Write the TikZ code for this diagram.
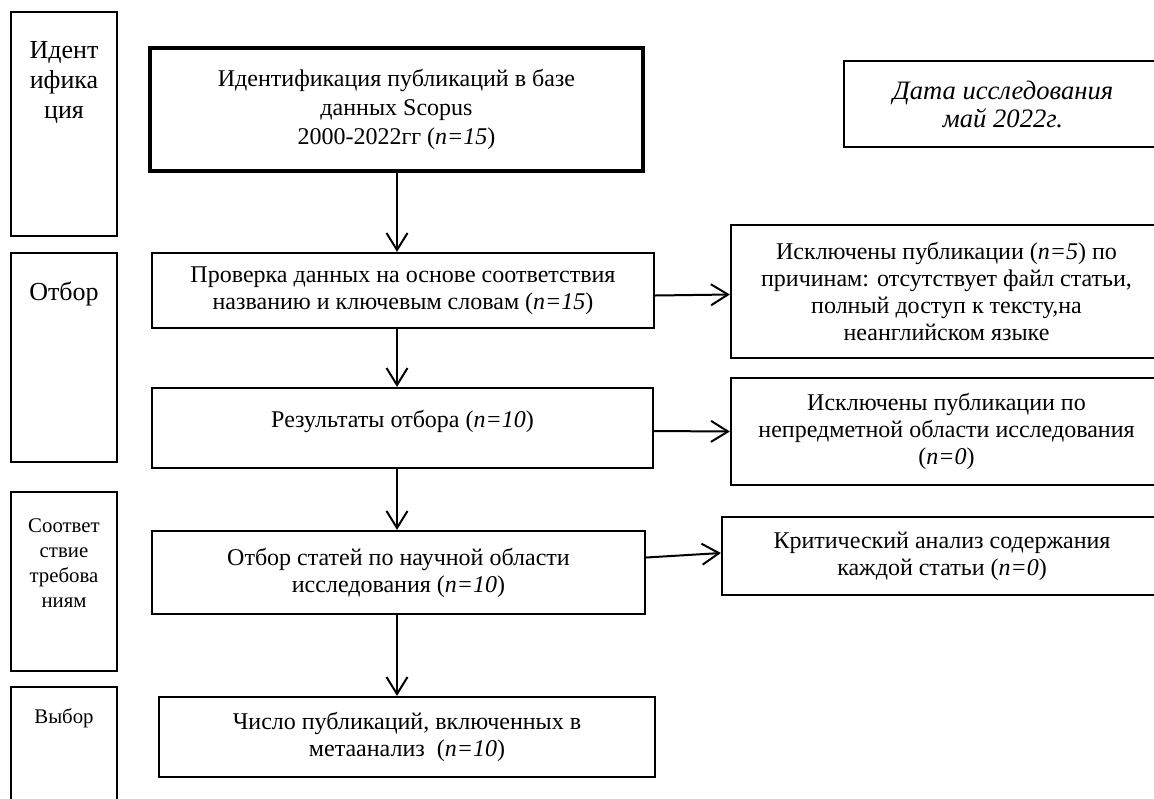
\documentclass[tikz,border=0pt]{standalone}
\usepackage{fontspec}
\setmainfont{Liberation Serif}
\usetikzlibrary{positioning,arrows.meta}

\begin{document}
\begin{tikzpicture}[x=0.5pt,y=-0.5pt,
    box/.style={shape=rectangle,draw=black,line width=1.1pt,inner sep=0pt,align=center,font=\fontsize{12}{13.5}\selectfont},
    stage/.style={shape=rectangle,draw=black,line width=1.1pt,inner sep=0pt,minimum width=53pt},
    stagetext/.style={inner sep=0pt,align=center,font=\fontsize{13}{15}\selectfont},
    stagesmall/.style={inner sep=0pt,align=center,font=\fontsize{10.4}{12.5}\selectfont},
    flow/.style={-{Straight Barb[length=8.5pt,width=10.5pt]},line width=1pt}]
    \useasboundingbox (0,0) rectangle (1154,798);
    \clip (0,0) rectangle (1154,798);

    % stages on the left
    \node[stage,minimum height=112pt] (Ident) at (64,124) {};
    \node[stage,minimum height=104.5pt] (Select) at (64,357.5) {};
    \node[stage,minimum height=89.5pt] (Match) at (64,581.5) {};
    \node[stage,minimum height=71.5pt] (Choice) at (64,758.5) {};
    \node[stagetext,below=15pt of Ident.north] (IdentLbl) {Идент\\ифика\\ция};
    \node[stagetext,below=15pt of Select.north] (SelectLbl) {Отбор};
    \node[stagesmall,below=13.5pt of Match.north] (MatchLbl) {Соответ\\ствие\\требова\\ниям};
    \node[stagesmall,below=11pt of Choice.north] (ChoiceLbl) {Выбор};

    % main flow
    \node[box,line width=2.3pt,font=\fontsize{12}{14.5}\selectfont,minimum width=246.5pt,minimum height=61.5pt] (Search) at (396.5,109.5)
        {Идентификация публикаций в базе\\данных Scopus\\2000-2022гг (\textit{n=15})};
    \node[box,minimum width=251pt,minimum height=37.5pt] (Screen) at (403,290.5)
        {Проверка данных на основе соответствия\\названию и ключевым словам (\textit{n=15})};
    \node[box,minimum width=250.5pt,minimum height=40pt] (Results) at (402.5,428) {};
    \node[box,inner sep=0pt,draw=none,below=11pt of Results.north] (ResultsLbl)
        {Результаты отбора (\textit{n=10})};
    \node[box,minimum width=246.5pt,minimum height=41.5pt] (Field) at (398.5,572.5)
        {Отбор статей по научной области\\исследования (\textit{n=10})};
    \node[box,minimum width=248pt,minimum height=40pt] (Included) at (407,737)
        {Число публикаций, включенных в\\метаанализ~ (\textit{n=10})};

    % right column
    \node[box,line width=1.3pt,font=\fontsize{13.3}{14}\selectfont\itshape,minimum width=159pt,minimum height=43pt] (Date) at (1003,104)
        {Дата исследования\\май 2022г.};
    \node[box,minimum width=215.5pt,minimum height=66.5pt] (ExclA) at (946.5,291.5)
        {Исключены публикации (\textit{n=5}) по\\причинам: отсутствует файл статьи,\\полный доступ к тексту,на\\неанглийском языке};
    \node[box,minimum width=215.5pt,minimum height=53.5pt] (ExclB) at (946.5,431.5)
        {Исключены публикации по\\непредметной области исследования\\(\textit{n=0})};
    \node[box,minimum width=220pt,minimum height=39pt] (Critical) at (942,556)
        {Критический анализ содержания\\каждой статьи (\textit{n=0})};

    \coordinate (Axis) at (397,0);
    \draw[flow] (Search.south -| Axis) -- (Screen.north -| Axis);
    \draw[flow] (Screen.south -| Axis) -- (Results.north -| Axis);
    \draw[flow] (Results.south -| Axis) -- (Field.north -| Axis);
    \draw[flow] (Field.south -| Axis) -- (Included.north -| Axis);

    \draw[flow] ([yshift=-2.5pt]Screen.east) -- ([yshift=-1.5pt]ExclA.west);
    \draw[flow] ([yshift=-1.5pt]Results.east) -- ([yshift=0pt]ExclB.west);
    \draw[flow] ([yshift=7.5pt]Field.east) -- ([yshift=1.5pt]Critical.west);
\end{tikzpicture}
\end{document}
